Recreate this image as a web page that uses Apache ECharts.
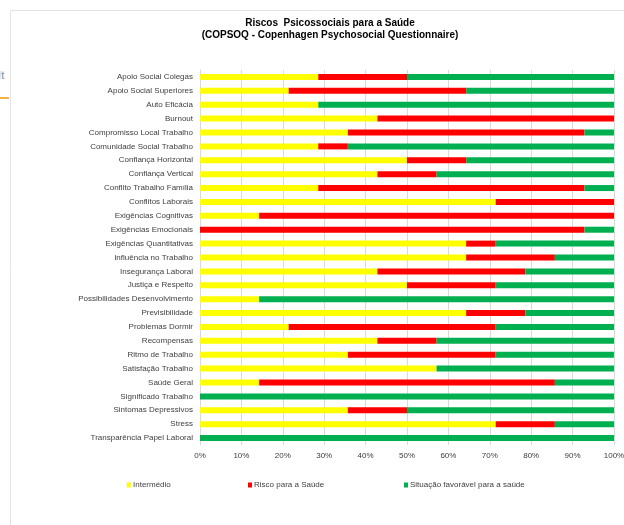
<!DOCTYPE html>
<html>
<head>
<meta charset="utf-8">
<script src="https://cdn.jsdelivr.net/npm/echarts@6/dist/echarts.min.js"></script>
<style>
    html, body { margin: 0; padding: 0; background: #fff; }
    #chart { width: 624px; height: 525px; }
</style>
</head>
<body>
<div id="chart"></div>
<script>
var categories = [
    "Apoio Social Colegas", "Apoio Social Superiores", "Auto Eficácia", "Burnout",
    "Compromisso Local Trabalho", "Comunidade Social Trabalho", "Confiança Horizontal",
    "Confiança Vertical", "Conflito Trabalho Família", "Conflitos Laborais",
    "Exigências Cognitivas", "Exigências Emocionais", "Exigências Quantitativas",
    "Influência no Trabalho", "Insegurança Laboral", "Justiça e Respeito",
    "Possibilidades Desenvolvimento", "Previsibilidade", "Problemas Dormir",
    "Recompensas", "Ritmo de Trabalho", "Satisfação Trabalho", "Saúde Geral",
    "Significado Trabalho", "Sintomas Depressivos", "Stress", "Transparência Papel Laboral"
];

// percentagens por categoria
var intermedio = [28.57, 21.43, 28.57, 42.86, 35.71, 28.57, 50, 42.86, 28.57, 71.43, 14.29, 0, 64.29,
    64.29, 42.86, 50, 14.29, 64.29, 21.43, 42.86, 35.71, 57.14, 14.29, 0, 35.71, 71.43, 0];
var risco = [21.43, 42.86, 0, 57.14, 57.14, 7.14, 14.29, 14.29, 64.29, 28.57, 85.71, 92.86, 7.14,
    21.43, 35.71, 21.43, 0, 14.29, 50, 14.29, 35.71, 0, 71.43, 0, 14.29, 14.29, 0];
var favoravel = [50, 35.71, 71.43, 0, 7.14, 64.29, 35.71, 42.86, 7.14, 0, 0, 7.14, 28.57,
    14.29, 21.43, 28.57, 85.71, 21.43, 28.57, 42.86, 28.57, 42.86, 14.29, 100, 50, 14.29, 100];

var seriesNames = ["Intermédio", "Risco para a Saúde", "Situação favorável para a saúde"];
var seriesColors = ["#ffff00", "#ff0000", "#00b050"];

var FONT = "Liberation Sans, Arial, sans-serif";

var chart = echarts.init(document.getElementById("chart"));

var legendPos = [122, 243, 399];
var legends = seriesNames.map(function(name, i) {
    return {
        data: [name],
        left: legendPos[i],
        top: 476,
        icon: "rect",
        itemWidth: 4,
        itemHeight: 5,
        itemGap: 2,
        textStyle: { fontFamily: FONT, fontSize: 8, color: "#404040", padding: [0, 0, 0, -3] }
    };
});

var allData = [intermedio, risco, favoravel];
var series = seriesNames.map(function(name, i) {
    return {
        name: name,
        type: "bar",
        stack: "total",
        barWidth: 6,
        itemStyle: { color: seriesColors[i] },
        data: allData[i]
    };
});

var option = {
    backgroundColor: "#fff",
    animation: false,
    title: {
        text: "Riscos  Psicossociais para a Saúde\n(COPSOQ - Copenhagen Psychosocial Questionnaire)",
        left: 325,
        top: 12,
        textAlign: "center",
        textStyle: { fontFamily: FONT, fontSize: 10, fontWeight: "bold", color: "#000", lineHeight: 12 }
    },
    legend: legends,
    grid: { left: 200, right: 10, top: 70, bottom: 80, containLabel: false, outerBoundsMode: "none" },
    xAxis: {
        type: "value",
        min: 0,
        max: 100,
        interval: 10,
        axisLine: { show: false },
        axisTick: { show: false },
        splitLine: { lineStyle: { color: "#d9d9d9", width: 1 } },
        axisLabel: { fontFamily: FONT, fontSize: 8, color: "#404040", margin: 7, formatter: "{value}%" }
    },
    yAxis: {
        type: "category",
        inverse: true,
        data: categories,
        axisLine: { lineStyle: { color: "#d9d9d9" } },
        axisTick: { show: false },
        axisLabel: { fontFamily: FONT, fontSize: 8, color: "#404040", margin: 7, interval: 0 }
    },
    graphic: [
        { type: "rect", shape: { x: 10.5, y: 10.5, width: 700, height: 600 },
          style: { fill: "none", stroke: "#e4e4e4", lineWidth: 1 } },
        { type: "rect", shape: { x: 0, y: 97, width: 9, height: 2 }, style: { fill: "#f2b24a" } },
        { type: "text", left: -2, top: 70, style: { text: "lt", fill: "#9aa8bd", font: "bold 11px " + FONT } }
    ],
    series: series
};

chart.setOption(option);
</script>
</body>
</html>
